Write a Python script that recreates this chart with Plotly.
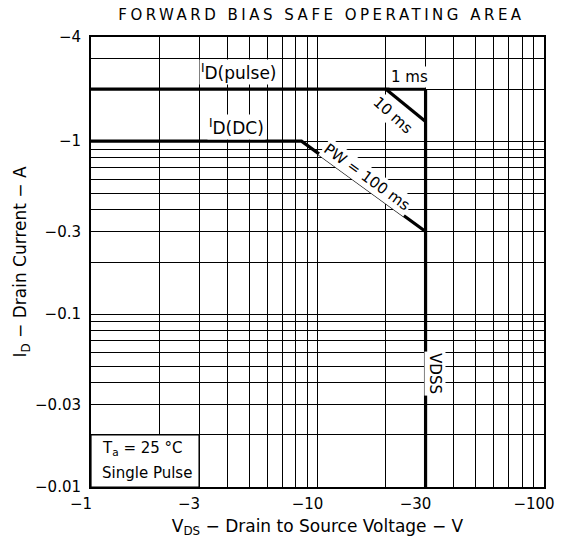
import math
import plotly.graph_objects as go

# ---- data ----
x_ticks = [1, 3, 10, 30, 100]
x_ticktext = ["−1", "−3", "−10", "−30", "−100"]
y_ticks = [0.01, 0.03, 0.1, 0.3, 1, 4]
y_ticktext = ["−0.01", "−0.03", "−0.1", "−0.3", "−1", "−4"]
x_minor = [2, 4, 5, 6, 7, 8, 9, 20, 40, 50, 60, 70, 80, 90]
y_minor = [0.02, 0.04, 0.05, 0.06, 0.07, 0.08, 0.09,
           0.2, 0.4, 0.5, 0.6, 0.7, 0.8, 0.9, 2, 3]

pulse_v = [1, 30]
pulse_i = [2, 2]
ms10_v = [20, 30]
ms10_i = [2, 1.3]
dc_v = [1, 8.5, 30]
dc_i = [1, 1, 0.3]
vdss_v = [30, 30]
vdss_i = [0.01, 2]
box_v = [1, 3, 3, 1, 1]
box_i = [0.01, 0.01, 0.02, 0.02, 0.01]

FONT = "DejaVu Sans"
L = math.log10

fig = go.Figure()
fig.add_trace(go.Scatter(x=box_v, y=box_i, mode="lines", fill="toself",
                         fillcolor="white", line=dict(color="black", width=1.2),
                         hoverinfo="skip", showlegend=False))
for xv, yv in [(pulse_v, pulse_i), (ms10_v, ms10_i), (dc_v, dc_i), (vdss_v, vdss_i)]:
    fig.add_trace(go.Scatter(x=xv, y=yv, mode="lines",
                             line=dict(color="black", width=3.2),
                             showlegend=False))

def ann(text, x, y, angle=0, size=15, xanchor="center", bg="white"):
    fig.add_annotation(text=text, x=L(x), y=L(y), xref="x", yref="y",
                       showarrow=False, textangle=angle, xanchor=xanchor,
                       font=dict(family=FONT, size=size, color="black"),
                       bgcolor=bg, borderpad=1)

ann("<sup>I</sup>D(pulse)", 4.5, 2.5, size=17)
ann("<sup>I</sup>D(DC)", 4.4, 1.21, size=17)
ann("1 ms", 25.4, 2.35, size=15)
ann("10 ms", 21.5, 1.42, angle=42, size=15)
ann("PW = 100 ms", 16.5, 0.62, angle=36, size=15)
ann("VDSS", 33, 0.045, angle=90, size=15)
ann("T<sub>a</sub> = 25 °C", 1.1, 0.0166, xanchor="left", bg=None)
ann("Single Pulse", 1.1, 0.0121, xanchor="left", bg=None)

axis_common = dict(type="log", showline=True, mirror=True, linecolor="black",
                   linewidth=2, showgrid=True, gridcolor="black", gridwidth=1.2,
                   ticks="", zeroline=False,
                   tickfont=dict(family=FONT, size=15, color="black"))

fig.update_xaxes(**axis_common, range=[0, 2], tickmode="array",
                 tickvals=x_ticks, ticktext=x_ticktext,
                 ticklabelshift=-10, ticklabelstandoff=2,
                 ticklabeloverflow="allow",
                 minor=dict(tickmode="array", tickvals=x_minor, showgrid=True,
                            gridcolor="black", gridwidth=1.2, ticks=""),
                 title=dict(text="V<sub>DS</sub> − Drain to Source Voltage − V",
                            font=dict(family=FONT, size=17, color="black"),
                            standoff=8))
fig.update_yaxes(**axis_common, range=[-2, L(4)], tickmode="array",
                 tickvals=y_ticks, ticktext=y_ticktext,
                 ticklabelstandoff=5, ticklabeloverflow="allow",
                 minor=dict(tickmode="array", tickvals=y_minor, showgrid=True,
                            gridcolor="black", gridwidth=1.2, ticks=""),
                 title=dict(text="I<sub>D</sub> − Drain Current − A",
                            font=dict(family=FONT, size=17, color="black"),
                            standoff=4))

fig.update_layout(
    width=563, height=544,
    margin=dict(l=91, r=19, t=37, b=57, autoexpand=False),
    paper_bgcolor="white", plot_bgcolor="white",
    title=dict(text="FORWARD BIAS SAFE OPERATING AREA",
               font=dict(family=FONT, size=15, color="black"),
               x=0.571, xanchor="center", xref="container",
               y=1 - 15 / 544, yanchor="middle", yref="container"),
)

post = """
var s=document.createElement('style');
s.innerHTML='body{margin:0;padding:0;} .gtitle{letter-spacing:3.5px;}';
document.head.appendChild(s);
"""
fig.write_html("out.html", post_script=post, config={"displayModeBar": False})
